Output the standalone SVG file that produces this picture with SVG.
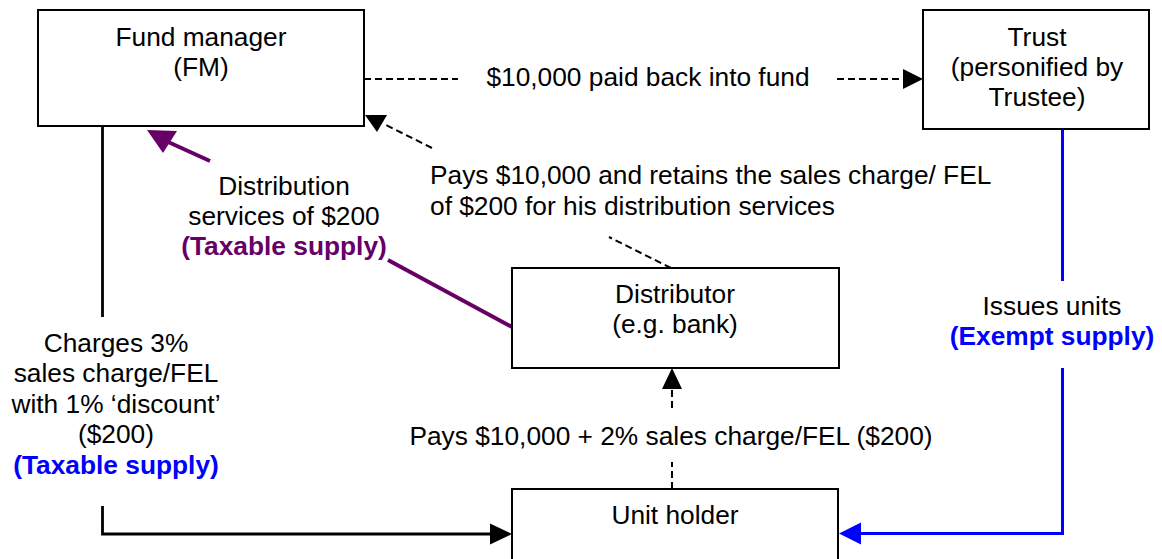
<svg xmlns="http://www.w3.org/2000/svg" width="1162" height="559" viewBox="0 0 1162 559">
<style>
.box{fill:#fff;stroke:#000;stroke-width:2}
.t{font-family:"Liberation Sans",Arial,sans-serif;font-size:26.3px;fill:#000}
.c{text-anchor:middle}
.b{font-weight:bold}
.pur{fill:#660066}
.blu{fill:#0000ff}
.dash{fill:none;stroke:#000;stroke-width:2;stroke-dasharray:7 4}
.solid{fill:none;stroke:#000;stroke-width:2.8}
.bl{fill:none;stroke:#0000ff;stroke-width:3}
.pl{fill:none;stroke:#660066;stroke-width:4}
</style>
<rect width="1162" height="559" fill="#fff"/>
<g id="connectors">
  <!-- FM to Trust dashed -->
  <line class="dash" x1="364" y1="79" x2="458" y2="79"/>
  <line class="dash" x1="837" y1="79" x2="903" y2="79"/>
  <polygon points="903,69 923,79 903,89" fill="#000"/>
  <!-- Distributor to FM dashed -->
  <line class="dash" x1="671" y1="268" x2="609" y2="237"/>
  <line class="dash" x1="432" y1="148" x2="384" y2="124"/>
  <polygon points="365,115 387,115 377,132" fill="#000"/>
  <!-- Distributor to FM purple -->
  <line class="pl" x1="512" y1="327" x2="388" y2="260"/>
  <line class="pl" x1="210" y1="161" x2="166" y2="141"/>
  <polygon points="147,130 177,131 163,153" fill="#660066"/>
  <!-- Unit holder to Distributor dashed -->
  <line class="dash" x1="672" y1="489" x2="672" y2="462"/>
  <line class="dash" x1="672" y1="408" x2="672" y2="389"/>
  <polygon points="672,368 662,389 682,389" fill="#000"/>
  <!-- FM to Unit holder solid -->
  <line class="solid" x1="102.5" y1="126" x2="102.5" y2="317"/>
  <polyline class="solid" points="102.5,506 102.5,534 490,534"/>
  <polygon points="512,534 490,523.5 490,544.5" fill="#000"/>
  <!-- Trust to Unit holder blue -->
  <line class="bl" x1="1062.5" y1="129" x2="1062.5" y2="281"/>
  <polyline class="bl" points="1062.5,368 1062.5,533.5 860,533.5"/>
  <polygon points="839,533.5 861,522.5 861,544.5" fill="#0000ff"/>
</g>
<g id="fm">
  <rect class="box" x="38" y="10" width="326" height="116"/>
  <text class="t c" x="201" y="46">Fund manager</text>
  <text class="t c" x="201" y="76">(FM)</text>
</g>
<g id="trust">
  <rect class="box" x="923" y="10" width="226" height="119"/>
  <text class="t c" x="1037" y="46">Trust</text>
  <text class="t c" x="1037" y="76">(personified by</text>
  <text class="t c" x="1037" y="106">Trustee)</text>
</g>
<g id="distributor">
  <rect class="box" x="512" y="268" width="327" height="100"/>
  <text class="t c" x="675" y="303">Distributor</text>
  <text class="t c" x="675" y="333">(e.g. bank)</text>
</g>
<g id="unitholder">
  <rect class="box" x="512" y="489" width="326" height="90"/>
  <text class="t c" x="675" y="524">Unit holder</text>
</g>
<g id="labels">
  <text class="t c" x="648" y="86">$10,000 paid back into fund</text>
  <text class="t" x="430" y="184">Pays $10,000 and retains the sales charge/ FEL</text>
  <text class="t" x="430" y="215">of $200 for his distribution services</text>
  <text class="t c" x="284" y="195">Distribution</text>
  <text class="t c" x="284" y="225">services of $200</text>
  <text class="t c b pur" x="284" y="255">(Taxable supply)</text>
  <text class="t c" x="116" y="352">Charges 3%</text>
  <text class="t c" x="116" y="382">sales charge/FEL</text>
  <text class="t c" x="116" y="413">with 1% ‘discount’</text>
  <text class="t c" x="116" y="443">($200)</text>
  <text class="t c b blu" x="116" y="474">(Taxable supply)</text>
  <text class="t c" x="1052" y="315">Issues units</text>
  <text class="t c b blu" x="1052" y="345">(Exempt supply)</text>
  <text class="t c" x="671" y="445">Pays $10,000 + 2% sales charge/FEL ($200)</text>
</g>
</svg>
